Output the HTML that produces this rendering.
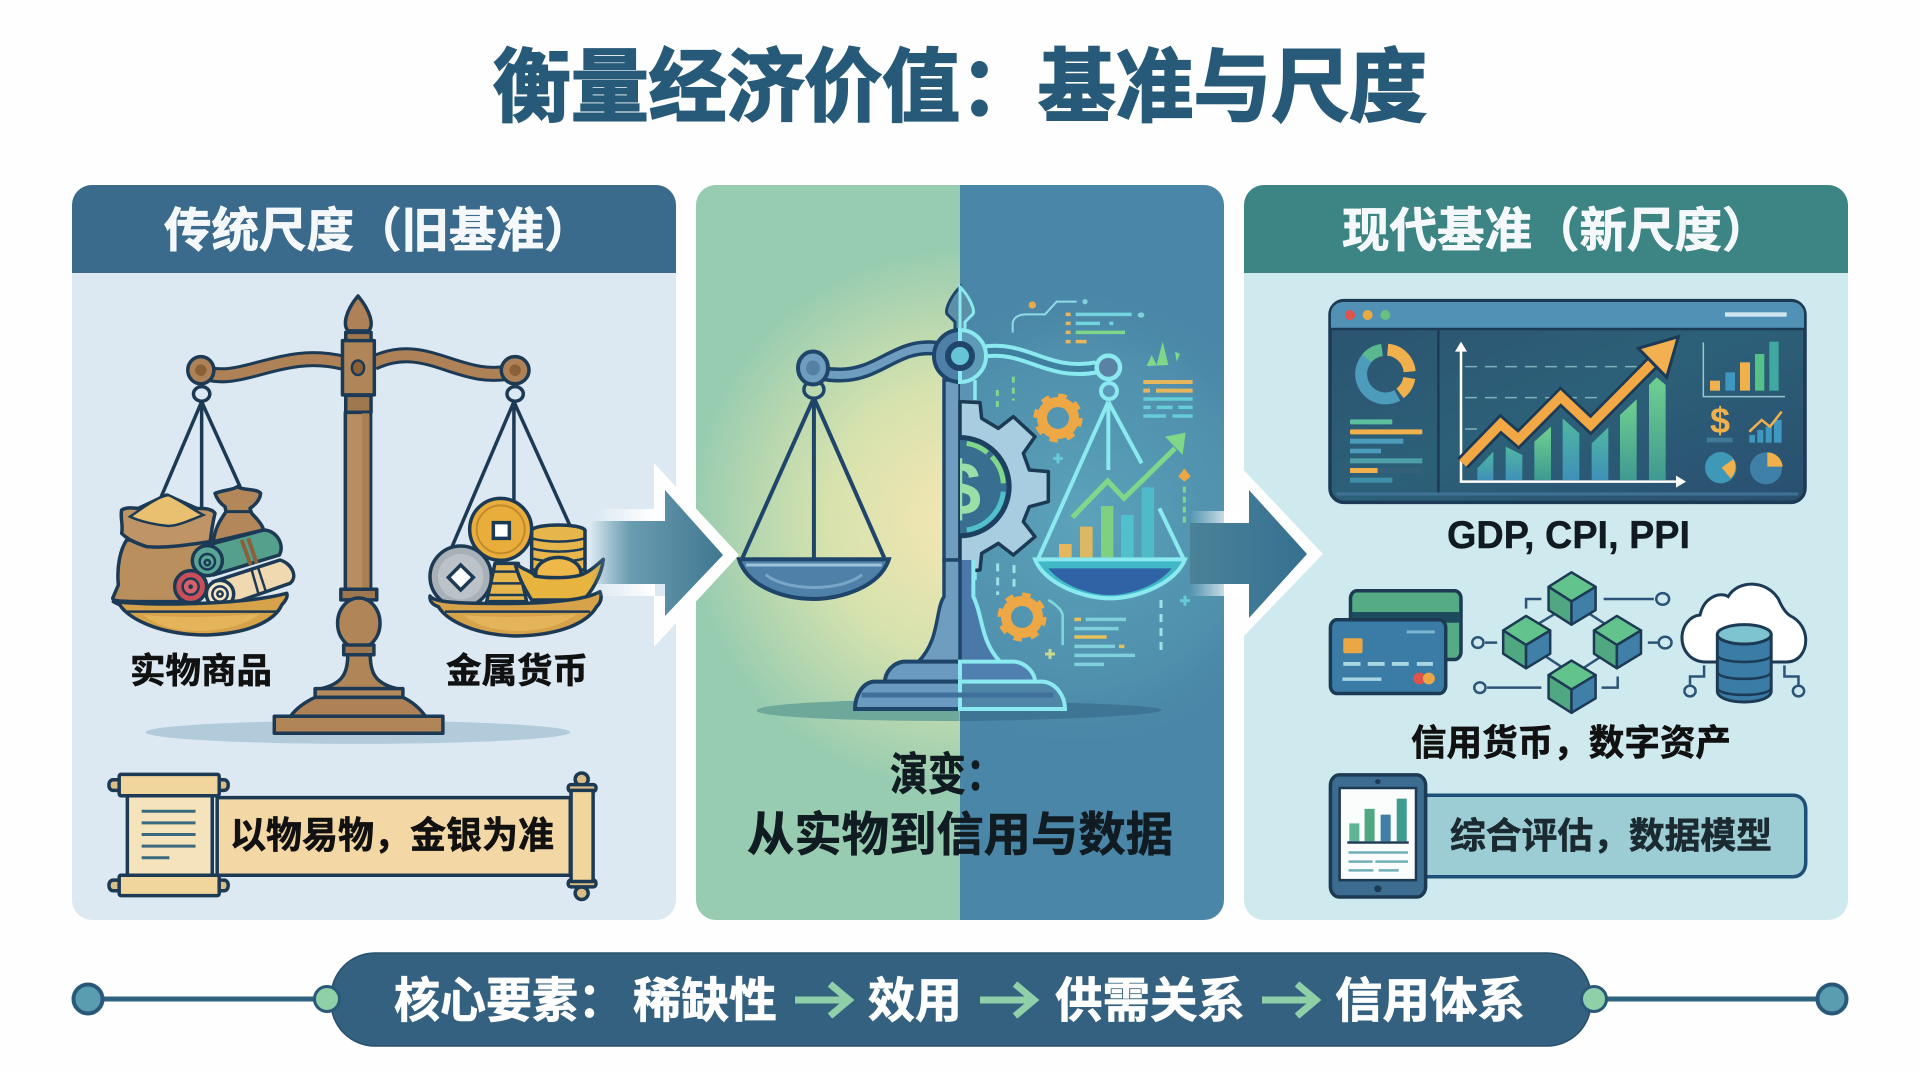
<!DOCTYPE html>
<html lang="zh-CN"><head><meta charset="utf-8"><title>衡量经济价值：基准与尺度</title>
<style>
html,body{margin:0;padding:0;background:#fdfefd;width:1920px;height:1072px;overflow:hidden}
svg{display:block}
text{font-family:"Liberation Sans","Noto Sans CJK SC",sans-serif;font-weight:700}
.z *{vector-effect:non-scaling-stroke}
.d{stroke:#1d3a55;stroke-width:3.5;stroke-linejoin:round;stroke-linecap:round}
.t{stroke:#111;stroke-width:.6}
.w{stroke:#fff;stroke-width:.7}
</style></head><body>
<svg width="1920" height="1072" viewBox="0 0 1920 1072" xmlns="http://www.w3.org/2000/svg">
<defs>
<clipPath id="p1"><rect x="72" y="185" width="604" height="735" rx="20"/></clipPath>
<clipPath id="p2"><rect x="696" y="185" width="528" height="735" rx="20"/></clipPath>
<clipPath id="p3"><rect x="1244" y="185" width="604" height="735" rx="20"/></clipPath>
<clipPath id="rh"><rect x="960" y="185" width="300" height="735"/></clipPath>
<radialGradient id="yl" gradientUnits="userSpaceOnUse" cx="960" cy="520" r="270"><stop offset="0" stop-color="#f5e6b2"/><stop offset=".5" stop-color="#d6e2ae"/><stop offset="1" stop-color="#98ccb0"/></radialGradient>
<radialGradient id="glw" gradientUnits="userSpaceOnUse" cx="1080" cy="520" r="240"><stop offset="0" stop-color="#62adc0" stop-opacity=".75"/><stop offset=".7" stop-color="#5aa2b8" stop-opacity=".35"/><stop offset="1" stop-color="#4a86a7" stop-opacity="0"/></radialGradient>
<linearGradient id="ar1" x1="0" x2="1" y1="0" y2="0"><stop offset="0" stop-color="#5f94aa" stop-opacity="0"/><stop offset=".3" stop-color="#6a9cb0"/><stop offset="1" stop-color="#3f7791"/></linearGradient>
<linearGradient id="ar2" x1="0" x2="1" y1="0" y2="0"><stop offset="0" stop-color="#4a8298"/><stop offset="1" stop-color="#357090"/></linearGradient>
<linearGradient id="fw" x1="0" x2="1" y1="0" y2="0"><stop offset="0" stop-color="#fff" stop-opacity="0"/><stop offset="1" stop-color="#fff"/></linearGradient>
<linearGradient id="bar" x1="0" x2="0" y1="0" y2="1"><stop offset="0" stop-color="#6fd090"/><stop offset="1" stop-color="#3f9a90"/></linearGradient>
<linearGradient id="bar2" x1="0" x2="0" y1="0" y2="1"><stop offset="0" stop-color="#4fb8a0"/><stop offset="1" stop-color="#3f90b8"/></linearGradient>
<linearGradient id="gold" x1="0" x2="0" y1="0" y2="1"><stop offset="0" stop-color="#dcaa4c"/><stop offset="1" stop-color="#cf9a35"/></linearGradient>
<linearGradient id="dash" x1="0" x2="1" y1="0" y2="1"><stop offset="0" stop-color="#2b5270"/><stop offset=".5" stop-color="#2c6078"/><stop offset="1" stop-color="#2a4f70"/></linearGradient>
</defs>

<rect width="1920" height="1072" fill="#fdfefd"/>
<text x="493" y="115" font-size="80" fill="#265a78" stroke="#265a78" stroke-width="2" textLength="934" lengthAdjust="spacingAndGlyphs">衡量经济价值：基准与尺度</text>

<!-- PANEL 1 -->
<g clip-path="url(#p1)"><rect x="72" y="185" width="604" height="735" fill="#dce9f2"/><rect x="72" y="185" width="604" height="88" fill="#3a6a8c"/></g>
<g class="z" transform="translate(60 170) scale(.4082 .4847)">
<ellipse cx="730" cy="1160" rx="520" ry="24" fill="#b2cbdb"/>
<g fill="none" stroke="#1d3a55" stroke-width="3.5">
<path d="M347 478L245 680M347 478V700M347 478L442 655M1112 478L960 778M1112 478V685M1112 478L1250 735"/>
<ellipse cx="347" cy="462" rx="20" ry="15"/><ellipse cx="1115" cy="462" rx="20" ry="15"/>
</g>
<path d="M345 415C440 450 540 365 695 398M768 398C900 345 980 445 1115 415" fill="none" stroke="#1d3a55" stroke-width="16"/>
<path d="M345 415C440 450 540 365 695 398M768 398C900 345 980 445 1115 415" fill="none" stroke="#ae8256" stroke-width="10"/>
<ellipse cx="345" cy="413" rx="32" ry="28" fill="#ae8256" class="d"/><ellipse cx="345" cy="413" rx="14" ry="12" fill="#8a6038"/>
<ellipse cx="1115" cy="413" rx="34" ry="28" fill="#ae8256" class="d"/><ellipse cx="1115" cy="413" rx="14" ry="12" fill="#8a6038"/>
<path class="d" fill="#ae8256" d="M730 260C700 290 692 320 706 332H756C770 320 760 290 730 260Z"/>
<rect class="d" x="700" y="335" width="62" height="20" fill="#a07850"/>
<rect class="d" x="692" y="352" width="78" height="112" fill="#b08658"/>
<rect class="d" x="700" y="465" width="62" height="35" fill="#a07850"/>
<circle cx="730" cy="408" r="15" fill="#8a6038" stroke="#1d3a55" stroke-width="2.5"/>
<rect class="d" x="699" y="500" width="62" height="365" fill="#b88e60"/>
<rect x="740" y="502" width="18" height="360" fill="#a98054"/>
<rect class="d" x="688" y="865" width="88" height="22" fill="#a07850"/>
<ellipse class="d" cx="732" cy="935" rx="52" ry="52" fill="#b08658"/>
<rect class="d" x="695" y="980" width="74" height="20" fill="#a07850"/>
<path class="d" fill="#b08658" d="M705 1000C705 1040 690 1060 640 1070H825C775 1060 760 1040 760 1000Z"/>
<rect class="d" x="625" y="1070" width="215" height="18" fill="#b58a5c"/>
<path class="d" fill="#ae8256" d="M625 1088H840C870 1100 885 1115 895 1127H565C575 1115 595 1100 625 1088Z"/>
<rect class="d" x="525" y="1127" width="413" height="35" fill="#b08658"/>
<!-- scroll -->
<rect class="d" x="385" y="1295" width="865" height="160" fill="#f3d8a5"/>
<rect class="d" x="165" y="1290" width="208" height="168" fill="#f5e4bb"/>
<g stroke="#3a6a80" stroke-width="3"><path d="M200 1323H332M200 1347H332M200 1371H332M200 1395H332M200 1419H268"/></g>
<g class="d" fill="#dcbd86">
<rect x="120" y="1258" width="292" height="22" rx="10"/><rect x="145" y="1247" width="245" height="44" rx="4" fill="#f0d69c"/>
<rect x="120" y="1465" width="292" height="22" rx="10"/><rect x="145" y="1455" width="245" height="42" rx="4" fill="#f0d69c"/>
<ellipse cx="1278" cy="1257" rx="16" ry="13"/><ellipse cx="1278" cy="1492" rx="16" ry="13"/>
<rect x="1245" y="1268" width="68" height="14" rx="6"/><rect x="1245" y="1465" width="68" height="14" rx="6"/>
<rect x="1252" y="1280" width="54" height="188" fill="#f0d69c"/>
</g>
</g>
<!-- left goods, real 3x coords -->
<g class="z" transform="translate(100 470) scale(.33333)">
<path class="d" fill="#b4875a" d="M345 70C370 60 400 60 412 50 430 62 470 55 482 70 480 90 465 105 450 115L455 130C475 150 490 170 490 180L340 215C345 170 365 145 378 125L375 110C360 100 350 85 345 70Z"/>
<path d="M375 125H452" stroke="#1d3a55" stroke-width="3"/>
<path class="d" fill="#b98f5d" d="M80 210C60 240 50 290 55 345L38 385C40 395 60 395 240 395L330 210Z"/>
<path class="d" fill="#bf9567" d="M65 120C80 110 100 115 115 115L200 75 290 115C310 115 335 115 345 130 335 170 335 190 330 215 260 225 200 235 140 230 110 220 85 210 65 190 70 165 60 140 65 120Z"/>
<path fill="#e8c070" stroke="#1d3a55" stroke-width="2.5" d="M90 140C120 120 170 80 205 75 240 90 280 120 310 135 260 155 230 168 205 168 170 165 120 155 90 140Z"/>
<circle class="d" cx="272" cy="350" r="48" fill="#c84f5a"/><circle cx="272" cy="350" r="24" fill="#d8606a" stroke="#1d3a55" stroke-width="2.5"/><circle cx="272" cy="350" r="7" fill="#1d3a55"/>
<path class="d" fill="#55a08c" d="M305 230L490 180C530 180 555 225 538 255L340 315Z"/>
<path d="M425 210L452 285M445 205L470 280" stroke="#8a6038" stroke-width="4"/>
<circle class="d" cx="322" cy="272" r="45" fill="#5aa595"/><circle cx="322" cy="275" r="23" fill="none" stroke="#1d3a55" stroke-width="2.5"/><circle cx="322" cy="278" r="8" fill="none" stroke="#1d3a55" stroke-width="2.5"/>
<path class="d" fill="#f0d9b0" d="M340 335L540 270C575 280 595 320 570 340L370 410Z"/>
<path d="M455 300L475 370M475 295L497 363" stroke="#1d3a55" stroke-width="2.5"/>
<circle class="d" cx="360" cy="372" r="41" fill="#f5e6c8"/><circle cx="360" cy="372" r="23" fill="none" stroke="#1d3a55" stroke-width="2.5"/><circle cx="360" cy="372" r="8" fill="none" stroke="#1d3a55" stroke-width="2.5"/>
<path class="d" fill="#d6a24a" d="M40 395C200 410 450 400 560 370 565 380 555 395 545 405 530 440 470 490 320 495 170 495 80 440 60 405 50 400 45 398 40 395Z"/>
<path d="M75 425H530" stroke="#1d3a55" stroke-width="2.5"/>
<path d="M130 435C250 445 360 440 480 432 430 470 350 485 280 483 210 480 160 460 130 435Z" fill="#e3b45a"/>
</g>
<g class="z" transform="translate(420 470) scale(.33333)">
<path class="d" fill="#e6b64c" d="M335 180C350 160 480 160 495 180V300H335Z"/>
<path d="M335 205C380 218 450 218 495 205M335 235C380 248 450 248 495 235M335 265C380 278 450 278 495 265" fill="none" stroke="#1d3a55" stroke-width="2.5"/>
<circle class="d" cx="242" cy="178" r="93" fill="#e9ad3c"/><circle cx="242" cy="178" r="72" fill="none" stroke="#c28a2a" stroke-width="2"/>
<rect x="220" y="158" width="48" height="47" fill="#fff" stroke="#1d3a55" stroke-width="3.5"/>
<path class="d" fill="#e6b64c" d="M225 280H295L320 395H200Z"/>
<path d="M220 305H300M215 340H310M208 375H315" stroke="#1d3a55" stroke-width="2.5"/>
<circle class="d" cx="122" cy="320" r="92" fill="#a9b1b8"/><circle cx="122" cy="320" r="68" fill="#bcc3c8"/>
<path d="M122 285L160 322 122 360 85 322Z" fill="#fff" stroke="#1d3a55" stroke-width="3.5"/>
<ellipse class="d" cx="415" cy="310" rx="68" ry="48" fill="#eeb94a"/>
<path class="d" fill="#e8b440" d="M285 280C310 300 340 305 345 318 380 325 450 325 482 315 510 305 530 285 550 268 545 320 510 370 490 390H335C310 350 295 320 285 280Z"/>
<path class="d" fill="#d6a24a" d="M30 378C40 395 100 400 200 400 300 402 480 400 540 365 548 385 540 400 530 410 500 460 420 495 290 498 160 495 80 450 55 410 40 405 28 395 30 378Z"/>
<path d="M75 425H510" stroke="#1d3a55" stroke-width="2.5"/>
<path d="M130 435C240 445 360 440 470 432 420 470 350 485 280 483 210 480 160 460 130 435Z" fill="#e3b45a"/>
</g>
<text x="164" y="247" font-size="47.5" fill="#f4f8fa" class="w">传统尺度（旧基准）</text>
<text x="130" y="683" font-size="35" fill="#111" class="t" textLength="142" lengthAdjust="spacingAndGlyphs">实物商品</text>
<text x="446" y="683" font-size="35" fill="#111" class="t" textLength="142" lengthAdjust="spacingAndGlyphs">金属货币</text>
<text x="230" y="848" font-size="37" fill="#111" class="t" textLength="324" lengthAdjust="spacingAndGlyphs">以物易物，金银为准</text>

<!-- PANEL 2 -->
<g clip-path="url(#p2)">
<rect x="696" y="185" width="264" height="735" fill="url(#yl)"/>
<rect x="960" y="185" width="264" height="735" fill="#4a86a7"/>
<rect x="960" y="280" width="264" height="460" fill="url(#glw)"/>
</g>
<!-- left half scale -->
<g class="z" transform="translate(680 170) scale(.3571 .4847)">
<path d="M783 1092C500 1092 215 1100 215 1115 215 1130 500 1137 783 1137Z" fill="#6ea89a"/>
<g fill="none" stroke="#1f456a" stroke-width="4">
<path d="M375 470L175 800M375 470V800M375 470L572 800"/>
<ellipse cx="375" cy="453" rx="28" ry="18" stroke-width="3.5"/>
</g>
<path d="M165 803H585C560 860 450 885 375 885 290 885 190 860 165 803Z" fill="#4f80a8" stroke="#1f456a" stroke-width="4"/>
<path d="M185 815H565" stroke="#9cc3d8" stroke-width="3"/>
<path d="M240 835C300 870 450 870 510 835" stroke="#79a5c6" stroke-width="3" fill="none"/>
</g>
<g class="z" transform="translate(840 280) scale(.33333)">
<path d="M-81 264C-50 285 -25 285 0 285C120 285 170 190 290 205" fill="none" stroke="#1f456a" stroke-width="15"/>
<path d="M-81 264C-50 285 -25 285 0 285C120 285 170 190 290 205" fill="none" stroke="#6f9dbf" stroke-width="8"/>
<path d="M360 300H312V840H360Z" fill="#6f9dc0" stroke="#1f456a" stroke-width="3.5"/>
<!-- right scale -->
<path d="M360 300H405V840H360Z" fill="#5c93b4"/>
<path d="M405 300V360M405 860V900" stroke="#8aeaf0" stroke-width="3.5"/>
<path d="M430 215C560 195 620 290 770 262" fill="none" stroke="#8aeaf0" stroke-width="14"/>
<path d="M430 215C560 195 620 290 770 262" fill="none" stroke="#3f7fa0" stroke-width="6"/>
<circle cx="805" cy="262" r="35" fill="#5a82a2" stroke="#8aeaf0" stroke-width="4.5"/>
<circle cx="807" cy="333" r="24" fill="#5a9ab8" stroke="#8aeaf0" stroke-width="4"/>
<path d="M805 365L595 835M805 365V570M805 365L905 550M958 685L1030 835" fill="none" stroke="#8aeaf0" stroke-width="4"/>
<path d="M585 838H1035C1010 905 900 955 810 955 720 955 610 905 585 838Z" fill="#40b8c8" stroke="#8aeaf0" stroke-width="4"/>
<path d="M625 865H995C960 910 880 945 810 945 740 945 660 910 625 865Z" fill="#2f63a6"/>
<rect x="657" y="792" width="38" height="40" fill="#e6b65c"/>
<rect x="720" y="740" width="38" height="92" fill="#dcb863"/>
<rect x="783" y="678" width="37" height="154" fill="#7fd080"/>
<rect x="843" y="705" width="38" height="127" fill="#50c0cc"/>
<rect x="905" y="622" width="37" height="210" fill="#4dbcc8"/>
<path d="M697 712L803 603 852 655 1005 505" fill="none" stroke="#7fd88a" stroke-width="5"/>
<path d="M975 470L1037 458 1028 525Z" fill="#7fd88a"/>
<!-- gear -->
<path class="d" fill="#a9cde0" d="M360 365L420 368 425 415 475 445 520 410 585 470 550 520 568 570 625 575 625 665 568 680 550 725 585 770 520 825 475 790 425 820 420 870 360 875Z"/>
<path fill="#1d4060" d="M360 465A155 155 0 0 1 360 775Z"/>
<path fill="#386e90" d="M360 480A140 140 0 0 1 360 760Z"/>
<path d="M380 490A130 130 0 0 1 442 518M455 530A130 130 0 0 1 490 610" fill="none" stroke="#7fd88a" stroke-width="5"/>
<path d="M490 635A130 130 0 0 1 380 750" fill="none" stroke="#50c0cc" stroke-width="5"/>
<!-- small marks -->
<circle cx="577" cy="75" r="11" fill="#e8a94a"/><circle cx="735" cy="65" r="8" fill="#7fd0da"/><ellipse cx="903" cy="105" rx="10" ry="8" fill="#7fd0da"/>
<path d="M518 158V130C520 110 540 103 560 103H615L650 65H710" fill="none" stroke="#8fdce6" stroke-width="2"/>
<g stroke-width="3.5" fill="none">
<path d="M707 103H875M707 130H780M808 130H820" stroke="#72d4dc"/>
<path d="M707 157H855" stroke="#7fd88a"/>
<path d="M677 103H692M677 130H692M677 157H692M677 185H692M707 185H740" stroke="#e6b65c"/>
<path d="M910 306H1058M910 332H930M948 332H1058" stroke="#e6b65c" stroke-width="4"/>
<path d="M910 357H1058M910 382H932M950 382H998M1015 382H1058M910 408H978M997 408H1058" stroke="#66ccd6"/>
</g>
<path d="M520 290V362M472 330V395" fill="none" stroke="#7fd88a" stroke-width="3" stroke-dasharray="6 5"/>
<path d="M1033 620V740" fill="none" stroke="#7fd88a" stroke-width="3" stroke-dasharray="6 4"/>
<path d="M1033 565L1052 590 1033 605 1015 590Z" fill="#eba744"/>
<path d="M920 258L935 225 950 255 968 185 985 255ZM1005 215L1020 222 1010 245Z" fill="#7fd88a"/>
<path d="M654 520V550M640 535H668" stroke="#66ccd6" stroke-width="3"/>
</g>
<ellipse cx="813" cy="368" rx="15" ry="16.5" fill="#6f9dbf" stroke="#1f456a" stroke-width="4"/>
<ellipse cx="813" cy="368" rx="7" ry="7.5" fill="#5580a4"/>
<g clip-path="url(#rh)"><text x="960" y="515" text-anchor="middle" font-size="76" fill="#9adfa8">$</text></g>
<!-- base -->
<g class="z" transform="translate(840 560) scale(.33333)">
<path d="M360 423C450 423 965 430 965 450 965 470 500 483 360 483Z" fill="#3e7594"/>
<path d="M360 0H400V110C430 170 420 240 480 305H360Z" fill="#4a78a8"/>
<path d="M400 0V110C430 170 420 240 480 305" fill="none" stroke="#8aeaf0" stroke-width="4"/>
<path d="M312 0H360V305H235C300 240 285 150 312 110Z" fill="#6f9dc0" stroke="#1f456a" stroke-width="3.5"/>
<path d="M360 305H190C155 310 135 340 135 365H360Z" fill="#6a9ac0" stroke="#1f456a" stroke-width="4"/>
<path d="M360 305H525C560 310 585 340 585 365H360Z" fill="#4f80b0" stroke="#8aeaf0" stroke-width="4"/>
<path d="M360 365H100C65 370 45 410 45 447H360Z" fill="#6a9ac0" stroke="#1f456a" stroke-width="4"/>
<path d="M360 365H610C650 370 675 410 675 447H360Z" fill="#4f86a8" stroke="#8aeaf0" stroke-width="4"/>
<path d="M65 405H640" stroke="#40709c" stroke-width="5"/>
<path d="M625 120C650 135 665 150 668 165V255" fill="none" stroke="#7fd8de" stroke-width="2.5"/>
<g stroke-width="3.5" fill="none">
<path d="M737 178H858M703 206H836M703 259H825M703 286H885M703 313H792" stroke="#7fd0da"/>
<path d="M703 178H723M703 231H800M837 259H853" stroke="#e6c25c"/>
</g>
<path d="M963 120V275M473 10V105M522 15V80" fill="none" stroke="#a0e0e6" stroke-width="3" stroke-dasharray="8 6"/>
<path d="M630 267V297M615 282H645" stroke="#c8d890" stroke-width="3"/>
<path d="M1035 107V137M1020 122H1050" stroke="#66ccd6" stroke-width="3"/>
</g>
<!-- finial + hub -->
<path d="M960 287C950 297 945 310 947 314L955 322V330H960Z" fill="#5e8fa8" stroke="#1f456a" stroke-width="3"/>
<path d="M960 287C970 297 975 310 973 314L965 322V330H960Z" fill="#5e8fa8" stroke="#8aeaf0" stroke-width="3"/>
<path d="M960 330A26 26 0 0 0 960 382Z" fill="#4f80a8" stroke="#1f456a" stroke-width="4"/>
<path d="M960 330A26 26 0 0 1 960 382Z" fill="#5c9ab8" stroke="#8aeaf0" stroke-width="4"/>
<circle cx="960" cy="356" r="15" fill="#1f456a"/>
<circle cx="960" cy="356" r="9" fill="#66c4d4"/>
<!-- small gears -->
<circle cx="1058" cy="418" r="16" fill="none" stroke="#eda845" stroke-width="10"/><circle cx="1058" cy="418" r="21" fill="none" stroke="#eda845" stroke-width="7" stroke-dasharray="8 8.5"/>
<circle cx="1022" cy="617" r="16" fill="none" stroke="#eda845" stroke-width="10"/><circle cx="1022" cy="617" r="21" fill="none" stroke="#eda845" stroke-width="7" stroke-dasharray="8 8.5"/>
<text x="890" y="790" font-size="45" fill="#111c22" stroke="#111c22" stroke-width=".6" textLength="114" lengthAdjust="spacingAndGlyphs">演变：</text>
<text x="747" y="851" font-size="47" fill="#111c22" stroke="#111c22" stroke-width=".6" textLength="426" lengthAdjust="spacingAndGlyphs">从实物到信用与数据</text>

<!-- PANEL 3 -->
<g clip-path="url(#p3)"><rect x="1244" y="185" width="604" height="735" fill="#cfeaee"/><rect x="1244" y="185" width="604" height="88" fill="#3d8585"/></g>
<!-- dashboard -->
<g class="z" transform="translate(1320 290) scale(.33333)">
<rect x="30" y="32" width="1425" height="605" rx="42" fill="url(#dash)" stroke="#1d3a55" stroke-width="3.5"/>
<path d="M33 115V72C33 50 50 36 72 36H1412C1435 36 1452 50 1452 72V115Z" fill="#5291b6"/>
<path d="M33 117H1452M355 122V610" stroke="#1d3a55" stroke-width="2.5"/>
<path d="M50 612H1435" stroke="#3f7296" stroke-width="3"/>
<circle cx="90" cy="75" r="15" fill="#e0524c"/><circle cx="143" cy="75" r="15" fill="#e8a93f"/><circle cx="196" cy="75" r="15" fill="#66c07e"/>
<rect x="1215" y="67" width="185" height="13" fill="#cfe6ee"/>
<!-- donut -->
<path d="M232 316A73 73 0 1 1 186 180" fill="none" stroke="#4d9cbc" stroke-width="12"/>
<path d="M186 180A73 73 0 0 0 140 205" fill="none" stroke="#5ab890" stroke-width="12"/>
<path d="M203 179A73 73 0 0 1 269 245M268 264A73 73 0 0 1 240 310" fill="none" stroke="#f0b04c" stroke-width="12"/>
<!-- side lines -->
<rect x="90" y="388" width="127" height="15" rx="4" fill="#5ac0a0"/><rect x="90" y="418" width="217" height="15" rx="4" fill="#f0b04c"/>
<rect x="90" y="446" width="160" height="15" fill="#4d9cbc"/><rect x="90" y="476" width="93" height="14" fill="#4d9cbc"/>
<rect x="90" y="505" width="217" height="15" fill="#4f9fa8"/><rect x="90" y="534" width="83" height="15" fill="#f0b04c"/><rect x="173" y="534" width="134" height="15" fill="#35607a"/><rect x="90" y="563" width="127" height="15" fill="#3f8fa8"/>
<!-- chart -->
<path d="M435 230H950M435 323H850M435 417H480" stroke="#7fb0bc" stroke-width="1.5" stroke-dasharray="12 8"/>
<path d="M472 535L520 485V570H472Z" fill="url(#bar2)"/><path d="M557 470L607 495V570H557Z" fill="url(#bar2)"/><path d="M643 455L693 410V570H643Z" fill="url(#bar)"/><path d="M728 385L778 430V570H728Z" fill="url(#bar2)"/><path d="M815 460L865 412V570H815Z" fill="url(#bar2)"/><path d="M900 375L950 328V570H900Z" fill="url(#bar)"/><path d="M987 285L1010 262 1037 285V570H987Z" fill="url(#bar)"/>
<path d="M423 180V575H1075" fill="none" stroke="#fff" stroke-width="2.5"/>
<path d="M405 185L423 155 441 185ZM1068 557L1098 575 1068 593Z" fill="#fff"/>
<path d="M428 520L542 402 595 448 722 320 812 405 1010 205" fill="none" stroke="#1d3a55" stroke-width="15" stroke-linejoin="miter"/>
<path d="M428 520L542 402 595 448 722 320 812 405 1010 205" fill="none" stroke="#f2a945" stroke-width="9.5" stroke-linejoin="miter"/>
<path d="M955 175L1075 140 1040 262Z" fill="#f2b050" stroke="#1d3a55" stroke-width="3"/>
<!-- mini -->
<path d="M1150 157V320H1395" fill="none" stroke="#9cc3d0" stroke-width="1.5"/>
<rect x="1170" y="272" width="30" height="30" fill="#f0b04c"/><rect x="1216" y="247" width="29" height="55" fill="#3f98c0"/><rect x="1260" y="217" width="30" height="85" fill="#f0b04c"/><rect x="1305" y="192" width="28" height="110" fill="#55c088"/><rect x="1348" y="155" width="28" height="147" fill="#3fa8a0"/>
<rect x="1160" y="443" width="78" height="14" fill="#3f7a98"/>
<rect x="1288" y="435" width="17" height="23" fill="#3f98c0"/><rect x="1312" y="420" width="18" height="38" fill="#3f98c0"/><rect x="1337" y="410" width="18" height="48" fill="#3f98c0"/><rect x="1362" y="390" width="23" height="68" fill="#3f98c0"/>
<path d="M1288 425L1325 390 1350 410 1385 365" fill="none" stroke="#f0b04c" stroke-width="2.5"/>
<circle cx="1202" cy="533" r="47" fill="#3f98b8"/><path d="M1205 533L1240 507A47 47 0 0 1 1232 565Z" fill="#f0b04c"/>
<circle cx="1338" cy="535" r="48" fill="#3f80a8"/><path d="M1342 530V487A46 46 0 0 1 1388 530Z" fill="#f0b04c"/>
</g>
<text x="1720" y="433" text-anchor="middle" font-size="36" fill="#f0b04c">$</text>
<g class="z" transform="translate(1240 170) scale(.4018 .4847)">
<!-- cards -->
<rect x="275" y="868" width="275" height="142" rx="16" fill="#55ab84" stroke="#1d3a55" stroke-width="3.5"/>
<rect x="277" y="912" width="271" height="22" fill="#1d4a5c"/>
<rect x="225" y="928" width="287" height="152" rx="16" fill="#3a7ca5" stroke="#1d3a55" stroke-width="3.5"/>
<rect x="257" y="966" width="48" height="31" rx="4" fill="#eba744"/>
<rect x="415" y="950" width="70" height="6" fill="#7fb6d0"/>
<g fill="#aad6e4"><rect x="257" y="1015" width="43" height="8"/><rect x="318" y="1015" width="42" height="8"/><rect x="378" y="1015" width="42" height="8"/><rect x="440" y="1015" width="40" height="8"/><rect x="255" y="1047" width="97" height="7"/></g>
<ellipse cx="447" cy="1049" rx="16" ry="12" fill="#e0524c"/><ellipse cx="470" cy="1049" rx="15" ry="12" fill="#eba744"/>
<!-- blockchain links -->
<g fill="none" stroke="#2a5578" stroke-width="2.5">
<path d="M745 935L805 905M850 905L915 940M745 995L800 1025M915 995L850 1030"/>
<path d="M905 885H1030M610 975H640M1015 975H1040M615 1068H750M750 885H712V905M900 1068H940V1045"/>
<ellipse cx="1052" cy="885" rx="16" ry="12" fill="#cfeaee"/><ellipse cx="592" cy="975" rx="14" ry="11" fill="#cfeaee"/><ellipse cx="1058" cy="975" rx="16" ry="12" fill="#cfeaee"/><ellipse cx="597" cy="1068" rx="14" ry="11" fill="#cfeaee"/>
</g>
<g stroke="#1d3a55" stroke-width="2.5" stroke-linejoin="round">
<g><path d="M825 830L885 860 825 890 768 860Z" fill="#62c48c"/><path d="M768 860L825 890V938L768 908Z" fill="#4fa880"/><path d="M885 860L825 890V938L885 908Z" fill="#3f7fa8"/></g>
<g transform="translate(-113 90)"><path d="M825 830L885 860 825 890 768 860Z" fill="#62c48c"/><path d="M768 860L825 890V938L768 908Z" fill="#4fa880"/><path d="M885 860L825 890V938L885 908Z" fill="#3f7fa8"/></g>
<g transform="translate(113 90)"><path d="M825 830L885 860 825 890 768 860Z" fill="#62c48c"/><path d="M768 860L825 890V938L768 908Z" fill="#4fa880"/><path d="M885 860L825 890V938L885 908Z" fill="#3f7fa8"/></g>
<g transform="translate(0 182)"><path d="M825 830L885 860 825 890 768 860Z" fill="#62c48c"/><path d="M768 860L825 890V938L768 908Z" fill="#4fa880"/><path d="M885 860L825 890V938L885 908Z" fill="#3f7fa8"/></g>
</g>
<!-- cloud -->
<path d="M1160 1015C1120 1015 1100 990 1100 965 1100 940 1120 920 1145 918 1155 880 1195 870 1215 880 1240 845 1310 845 1340 885 1350 905 1360 915 1370 920 1395 930 1408 950 1408 970 1408 995 1390 1015 1360 1015Z" fill="#fff" stroke="#1d3a55" stroke-width="3"/>
<path d="M1188 960V1075C1188 1105 1322 1105 1322 1075V960Z" fill="#3a7ca5" stroke="#1d3a55" stroke-width="3"/>
<ellipse cx="1255" cy="958" rx="67" ry="20" fill="#7ec3d0" stroke="#1d3a55" stroke-width="3"/>
<path d="M1188 1000C1188 1020 1322 1020 1322 1000M1188 1035C1188 1055 1322 1055 1322 1035M1188 1068C1188 1088 1322 1088 1322 1068" fill="none" stroke="#1d3a55" stroke-width="2.5"/>
<path d="M1155 1022V1045H1120V1062M1355 1022V1045H1390V1062" fill="none" stroke="#2a5578" stroke-width="2.5"/>
<ellipse cx="1120" cy="1075" rx="14" ry="11" fill="#cfeaee" stroke="#2a5578" stroke-width="2.5"/><ellipse cx="1390" cy="1075" rx="14" ry="11" fill="#cfeaee" stroke="#2a5578" stroke-width="2.5"/>
<!-- tablet + band -->
<path d="M440 1290H1376C1396 1290 1408 1302 1408 1320V1428C1408 1446 1396 1458 1376 1458H440Z" fill="#9ccdd5" stroke="#1d4f78" stroke-width="3.5"/>
<rect x="225" y="1248" width="237" height="252" rx="22" fill="#3c6c90" stroke="#1d3a55" stroke-width="3.5"/>
<rect x="248" y="1275" width="190" height="190" fill="#fbfdfc" stroke="#1d3a55" stroke-width="2.5"/>
<ellipse cx="343" cy="1262" rx="7" ry="5" fill="#1d3a55"/><ellipse cx="343" cy="1483" rx="9" ry="7" fill="#1d3a55"/>
<rect x="272" y="1348" width="25" height="37" fill="#5fb596"/><rect x="310" y="1318" width="25" height="67" fill="#4fa880"/><rect x="350" y="1330" width="25" height="55" fill="#3f7fa8"/><rect x="390" y="1297" width="25" height="88" fill="#3f9a90"/>
<rect x="267" y="1385" width="153" height="5" fill="#1d3a55"/>
<path d="M270 1408H418M270 1427H330M337 1427H418M270 1445H332M345 1445H395" stroke="#6fb0b8" stroke-width="2.5"/>
</g>
<text x="1342" y="247" font-size="47.5" fill="#f4f8fa" class="w">现代基准（新尺度）</text>
<text x="1447" y="548" font-size="39" fill="#101a20" stroke="#101a20" stroke-width=".4" textLength="243" lengthAdjust="spacingAndGlyphs">GDP, CPI, PPI</text>
<text x="1411" y="755" font-size="36" fill="#111" class="t" textLength="320" lengthAdjust="spacingAndGlyphs">信用货币，数字资产</text>
<text x="1450" y="848" font-size="36" fill="#1b2a30" stroke="#1b2a30" stroke-width=".6" textLength="322" lengthAdjust="spacingAndGlyphs">综合评估，数据模型</text>

<!-- ARROW 1 -->
<rect x="595" y="509" width="60" height="12" fill="url(#fw)"/><rect x="595" y="584" width="60" height="12" fill="url(#fw)"/>
<path d="M654 509V463L739 555 654 647V596H665V584 521H654Z" fill="#fdfefd"/>
<path d="M590 521H665V490L723 555 665 616V584H590Z" fill="url(#ar1)"/>
<!-- ARROW 2 -->
<rect x="1190" y="511" width="50" height="12" fill="url(#fw)"/><rect x="1190" y="584" width="50" height="12" fill="url(#fw)"/>
<path d="M1240 466L1323 554 1240 640Z" fill="#fdfefd"/>
<path d="M1190 523H1249V490L1307 554 1249 618V584H1190Z" fill="url(#ar2)"/>

<!-- BOTTOM BAR -->
<path d="M88 999H1832" stroke="#2f6280" stroke-width="5"/>
<circle cx="88" cy="999" r="14.5" fill="#5a9cb0" stroke="#2a5878" stroke-width="4"/>
<circle cx="1832" cy="999" r="14.5" fill="#5a9cb0" stroke="#2a5878" stroke-width="4"/>
<rect x="331" y="953" width="1260" height="93" rx="44" fill="#34617f" stroke="#27506c" stroke-width="1.5"/>
<circle cx="327" cy="999" r="12.5" fill="#8fd0a8" stroke="#2a5878" stroke-width="3"/>
<circle cx="1594" cy="999" r="12.5" fill="#8fd0a8" stroke="#2a5878" stroke-width="3"/>
<text x="394" y="1017" font-size="48" fill="#fff" class="w" textLength="230" lengthAdjust="spacingAndGlyphs">核心要素：</text>
<text x="633" y="1017" font-size="48" fill="#fff" class="w" textLength="144" lengthAdjust="spacingAndGlyphs">稀缺性</text>
<text x="868" y="1017" font-size="48" fill="#fff" class="w" textLength="94" lengthAdjust="spacingAndGlyphs">效用</text>
<text x="1055" y="1017" font-size="48" fill="#fff" class="w" textLength="190" lengthAdjust="spacingAndGlyphs">供需关系</text>
<text x="1335" y="1017" font-size="48" fill="#fff" class="w" textLength="190" lengthAdjust="spacingAndGlyphs">信用体系</text>
<g fill="none" stroke="#8fd0a8" stroke-width="7" stroke-linejoin="miter">
<path d="M795 1000H847M830 984L849 1000 830 1016"/>
<path d="M980 1000H1032M1015 984L1034 1000 1015 1016"/>
<path d="M1262 1000H1314M1297 984L1316 1000 1297 1016"/>
</g>
</svg>
</body></html>
